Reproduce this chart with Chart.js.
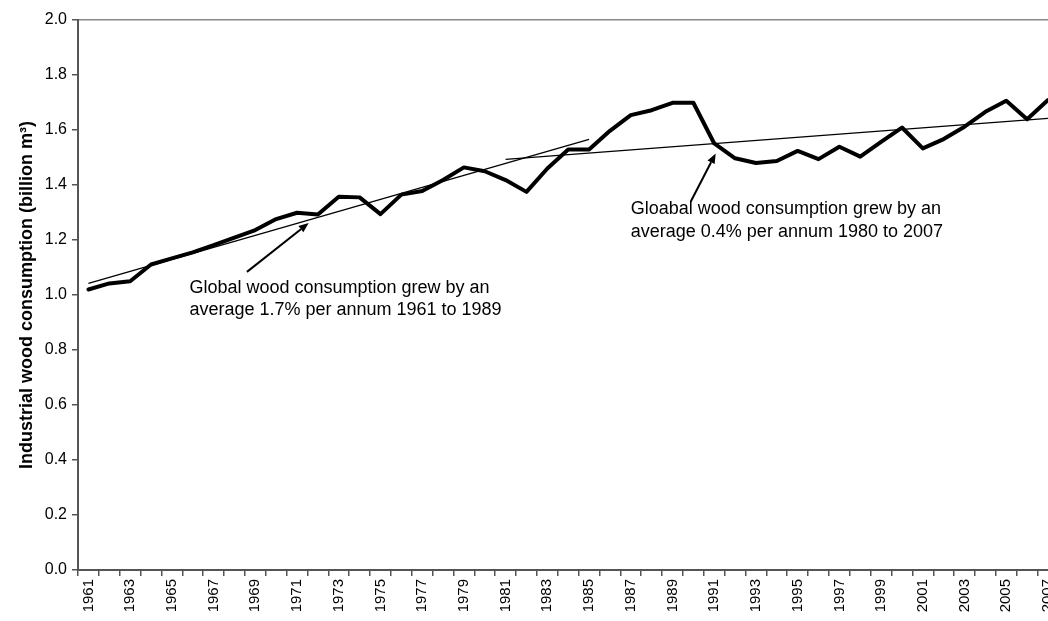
<!DOCTYPE html>
<html>
<head>
<meta charset="utf-8">
<script src="https://cdn.jsdelivr.net/npm/chart.js@4.4.0/dist/chart.umd.min.js"></script>
<style>
html,body{margin:0;padding:0;background:#fff;overflow:hidden;width:1048px;height:621px;}
canvas{display:block;}
</style>
</head>
<body>
<canvas id="c" width="1069" height="621" style="width:1069px;height:621px;"></canvas>
<script>
const years = ['1961','1962','1963','1964','1965','1966','1967','1968','1969','1970','1971','1972','1973','1974','1975','1976','1977','1978','1979','1980','1981','1982','1983','1984','1985','1986','1987','1988','1989','1990','1991','1992','1993','1994','1995','1996','1997','1998','1999','2000','2001','2002','2003','2004','2005','2006','2007'];
const consumption = [1.020,1.042,1.050,1.111,1.133,1.155,1.181,1.209,1.236,1.276,1.299,1.293,1.357,1.355,1.294,1.365,1.378,1.418,1.464,1.450,1.418,1.375,1.460,1.529,1.529,1.597,1.654,1.672,1.699,1.699,1.551,1.497,1.480,1.487,1.524,1.494,1.539,1.503,1.557,1.609,1.533,1.567,1.612,1.666,1.706,1.639,1.709];
// trend lines: [startYear, startValue, endYear, endValue]
const trend1 = ['1961', 1.042, '1985', 1.566];
const trend2 = ['1981', 1.493, '2007', 1.642];
const yTicks = [0,0.2,0.4,0.6,0.8,1.0,1.2,1.4,1.6,1.8,2.0];
const note1Lines = ['Global wood consumption grew by an','average 1.7% per annum 1961 to 1989'];
const note2Lines = ['Gloabal wood consumption grew by an','average 0.4% per annum 1980 to 2007'];
// note anchors in data space: [categoryIndex, line1Value, line2Value]
const note1Pos = [4.84, 1.025, 0.944];
const note2Pos = [26.0, 1.312, 1.229];
// arrows in data space: [fromIndex, fromValue, toIndex, toValue]
const arrow1 = [7.6, 1.084, 10.56, 1.262];
const arrow2 = [28.87, 1.339, 30.07, 1.515];

function trendData(t){
  return years.map(y => y===t[0] ? t[1] : (y===t[2] ? t[3] : null));
}

const annot = {
  id:'annot',
  afterDatasetsDraw(chart){
    const ctx = chart.ctx, xs = chart.scales.x, ys = chart.scales.y;
    ctx.save();
    ctx.fillStyle = '#000';
    ctx.font = '18px "Liberation Sans", Arial, sans-serif';
    ctx.textBaseline = 'middle';
    ctx.textAlign = 'left';
    const drawNote = (lines,pos)=>{
      const x = xs.getPixelForValue(pos[0]);
      ctx.fillText(lines[0], x, ys.getPixelForValue(pos[1]));
      ctx.fillText(lines[1], x, ys.getPixelForValue(pos[2]));
    };
    drawNote(note1Lines, note1Pos);
    drawNote(note2Lines, note2Pos);
    const drawArrow = (a)=>{
      const x1 = xs.getPixelForValue(a[0]), y1 = ys.getPixelForValue(a[1]);
      const x2 = xs.getPixelForValue(a[2]), y2 = ys.getPixelForValue(a[3]);
      const ang = Math.atan2(y2-y1, x2-x1);
      const hl = 10, hw = 4;
      const bx = x2 - hl*Math.cos(ang), by = y2 - hl*Math.sin(ang);
      ctx.strokeStyle = '#000';
      ctx.lineWidth = 2;
      ctx.beginPath(); ctx.moveTo(x1,y1); ctx.lineTo(bx,by); ctx.stroke();
      ctx.beginPath();
      ctx.moveTo(x2,y2);
      ctx.lineTo(bx + hw*Math.sin(ang), by - hw*Math.cos(ang));
      ctx.lineTo(bx - hw*Math.sin(ang), by + hw*Math.cos(ang));
      ctx.closePath(); ctx.fill();
    };
    drawArrow(arrow1);
    drawArrow(arrow2);
    ctx.restore();
  }
};

new Chart(document.getElementById('c'), {
  type:'line',
  data:{
    labels: years,
    datasets:[
      {data: consumption, borderColor:'#000', borderWidth:4, pointRadius:0, tension:0, borderJoinStyle:'round', borderCapStyle:'round', order:1},
      {data: trendData(trend1), borderColor:'#000', borderWidth:1.3, pointRadius:0, spanGaps:true, order:2},
      {data: trendData(trend2), borderColor:'#000', borderWidth:1.3, pointRadius:0, spanGaps:true, order:2}
    ]
  },
  options:{
    responsive:false, maintainAspectRatio:false, animation:false, devicePixelRatio:1,
    layout:{padding:{top:20,right:2,left:0,bottom:0}},
    plugins:{legend:{display:false}, tooltip:{enabled:false}},
    scales:{
      x:{
        offset:true,
        grid:{offset:true, drawOnChartArea:false, tickLength:6, tickColor:'#555', lineWidth:1.5},
        border:{color:'#555', width:2},
        ticks:{
          autoSkip:false, maxRotation:90, minRotation:90, padding:3,
          color:'#000', font:{family:'"Liberation Sans", Arial, sans-serif', size:15},
          callback:(v,i)=> i%2===0 ? years[i] : ''
        },
        afterFit(s){ s.height = 51; }
      },
      y:{
        min:0, max:2,
        afterBuildTicks(s){ s.ticks = yTicks.map(v=>({value:v})); },
        grid:{drawOnChartArea:true, tickLength:6, tickColor:'#555', lineWidth:1.5,
          color:(c)=> (c.tick && c.tick.value===2) ? '#888' : 'rgba(0,0,0,0)'},
        border:{color:'#555', width:2},
        ticks:{color:'#000', padding:5, font:{family:'"Liberation Sans", Arial, sans-serif', size:16},
          callback:(v)=> Number(v).toFixed(1)},
        title:{display:true, text:'Industrial wood consumption (billion m³)', color:'#000',
          font:{family:'"Liberation Sans", Arial, sans-serif', size:18, weight:'bold'}, padding:{top:16,bottom:0}},
        afterFit(s){ s.width = 78; }
      }
    }
  },
  plugins:[annot]
});
</script>
</body>
</html>
